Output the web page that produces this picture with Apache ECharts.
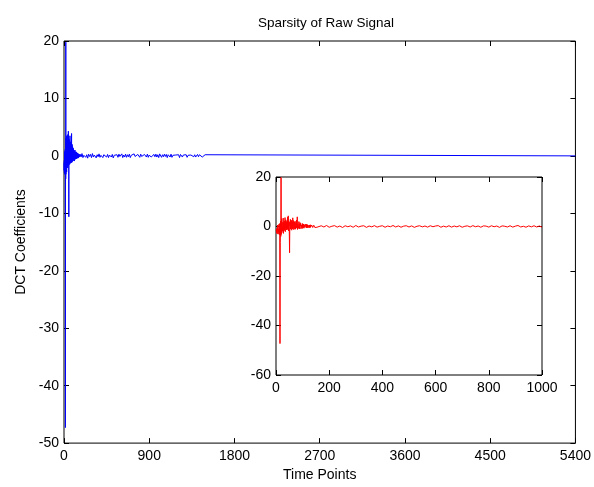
<!DOCTYPE html>
<html>
<head>
<meta charset="utf-8">
<script src="https://cdn.jsdelivr.net/npm/echarts@6/dist/echarts.min.js"></script>
<style>
  html, body { margin: 0; padding: 0; background: #fff; }
  #chart { width: 594px; height: 487px; }
</style>
</head>
<body>
<div id="chart"></div>
<script>
// DCT coefficients, index 1..160 (one per point)
const headVals = [
  -1.2, -2.5, -0.8, -2.9, -1.5, 0.6, -2.2, -3.1, -1.0, -2.4, 0.9, -1.8, -3.3, 1.2,
  -47.3, -6.5, 2.1, -4.0, 19.8, -3.2,
  3.1, -2.5, 1.8, 2.6, -1.9, 0.7, 3.4, -2.8, 1.5, -0.9, 2.2, -1.6, 0.4, 3.6, -2.1, 1.3, 2.7, -0.6, 1.9, -1.4,
  0.8, 2.3, -1.2, 3.8, -0.5, 4.3, -1.8, 1.1, 2.0, -2.6, -10.6, 1.7, 0.3, 2.9, -1.1, 1.4, -0.7, 2.5, -1.5, 0.6,
  1.8, -1.0, 3.5, -0.8, 1.2, 2.4, -1.3, 0.5, 1.9, -0.9, 0.8, 2.1, -1.1, 0.4, 1.5, -0.7, 2.6, -0.5, 1.1, 3.9,
  -1.2, 0.9, 1.7, -0.8, 0.3, 2.0, -0.6, 1.0, -1.0, 1.6, 0.2, -0.5, 1.3, -0.9, 0.7, 1.4, -0.4, 0.5, -0.8, 1.2,
  0.3, -0.6, 1.0, 0.2, -0.7, 0.8, 1.1, -0.3, 0.4, -0.9, 0.9, 0.1, -0.4, 0.7, -0.5, 1.0, 0.2, -0.3, 0.6, -0.6,
  0.5, 0.8, -0.2, 0.3, -0.5, 0.6, 0.1, -0.4, 0.7, -0.3,
  0.4, 0.2, -0.5, 0.6, -0.2, 0.3, 0.5, -0.4, 0.2, 0.4, -0.3, 0.5, 0.1, -0.2, 0.4, -0.4, 0.3, 0.2, -0.3, 0.4,
  0.1, -0.2, 0.3, -0.3, 0.2, 0.4, -0.2, 0.1, 0.3, -0.2
];
// small coefficients, index 170..1500, every 10th point
const noiseStart = 170;
const noiseStep = 10;
const noiseVals = [
  0.3, -0.2, 0.4, -0.3, 0.1, 0.35, -0.25, 0.2, -0.4, 0.3,
  -0.1, 0.25, -0.3, 0.4, -0.2, 0.15, 0.3, -0.35, 0.2, -0.15,
  0.35, -0.25, 0.1, 0.3, -0.3, 0.2, -0.1, 0.4, -0.2, 0.25,
  -0.3, 0.15, 0.3, -0.2, 0.25, -0.35, 0.1, 0.3, -0.15, 0.2,
  -0.25, 0.3, -0.1, 0.2, 0.35, -0.3, 0.15, -0.2, 0.3, -0.25,
  0.2, -0.15, 0.3, -0.3, 0.1, 0.25, -0.2, 0.35, -0.1, 0.2,
  -0.3, 0.25, 0.15, -0.25, 0.3, -0.1, 0.2, -0.35, 0.25, 0.1,
  -0.2, 0.3, -0.25, 0.15, 0.4, -0.2, 0.1, -0.3, 0.25, -0.15,
  0.3, -0.2, 0.2, -0.3, 0.35, 0.1, -0.25, 0.2, -0.15, 0.3,
  -0.1, 0.25, -0.3, 0.2, 0.15, -0.2, 0.3, -0.25, 0.1, 0.2,
  -0.2, 0.15, 0.3, -0.15, 0.2, -0.3, 0.25, 0.1, -0.2, 0.15,
  0.25, -0.15, 0.2, -0.25, 0.1, 0.3, -0.2, 0.15, -0.1, 0.2,
  -0.15, 0.2, -0.2, 0.1, 0.25, -0.15, 0.2, -0.1, 0.15, -0.2,
  0.1, -0.15, 0.2, -0.1
];
// flat tail up to the end of the signal
const tailX = [1510, 5400];
const tailY = [0, 0];

const mainXTicks = { min: 0, max: 5400, interval: 900 };
const mainYTicks = { min: -50, max: 20, interval: 10 };
const insetXTicks = { min: 0, max: 1000, interval: 200 };
const insetYTicks = { min: -60, max: 20, interval: 20 };

const signal = [];
headVals.forEach((v, i) => signal.push([i + 1, v]));
noiseVals.forEach((v, i) => signal.push([noiseStart + i * noiseStep, v]));
tailX.forEach((x, i) => signal.push([x, tailY[i]]));
const insetSignal = signal.filter(p => p[0] <= 1000);

const font = 'Liberation Sans, Arial, sans-serif';
const plain = v => String(v);

function axisX(gridIndex, ticks, pos, labels, name) {
  return {
    type: 'value', gridIndex, position: pos, ...ticks,
    name: name || '', nameLocation: 'middle', nameGap: 20,
    nameTextStyle: { color: '#000', fontSize: 14, fontFamily: font },
    axisLine: { show: false, onZero: false },
    axisTick: { show: true, inside: true, length: 5, lineStyle: { color: '#000' } },
    axisLabel: { show: labels, color: '#000', fontSize: 14, fontFamily: font, margin: 6, formatter: plain },
    splitLine: { show: false }
  };
}
function axisY(gridIndex, ticks, pos, labels, name) {
  return {
    type: 'value', gridIndex, position: pos, ...ticks,
    name: name || '', nameLocation: 'middle', nameGap: 36,
    nameTextStyle: { color: '#000', fontSize: 14, fontFamily: font },
    axisLine: { show: false, onZero: false },
    axisTick: { show: true, inside: true, length: 5, lineStyle: { color: '#000' } },
    axisLabel: { show: labels, color: '#000', fontSize: 14, fontFamily: font, margin: 5, formatter: plain },
    splitLine: { show: false }
  };
}

const chart = echarts.init(document.getElementById('chart'));
chart.setOption({
  animation: false,
  backgroundColor: '#fff',
  title: {
    text: 'Sparsity of Raw Signal', left: 321, top: 11, textAlign: 'center',
    textStyle: { color: '#000', fontSize: 13.5, fontWeight: 'normal', fontFamily: font }
  },
  grid: [
    { left: 64, top: 41, width: 514, height: 403, show: true, backgroundColor: '#fff', borderColor: '#000', borderWidth: 1 },
    { left: 276, top: 177, width: 266, height: 198, show: true, backgroundColor: '#fff', borderColor: '#000', borderWidth: 1 }
  ],
  xAxis: [
    axisX(0, mainXTicks, 'bottom', true, 'Time Points'),
    axisX(0, mainXTicks, 'top', false),
    axisX(1, insetXTicks, 'bottom', true),
    axisX(1, insetXTicks, 'top', false)
  ],
  yAxis: [
    axisY(0, mainYTicks, 'left', true, 'DCT Coefficients'),
    axisY(0, mainYTicks, 'right', false),
    axisY(1, insetYTicks, 'left', true),
    axisY(1, insetYTicks, 'right', false)
  ],
  series: [
    {
      type: 'line', xAxisIndex: 0, yAxisIndex: 0, data: signal,
      showSymbol: false, lineStyle: { color: '#0000ff', width: 1 }
    },
    {
      type: 'line', xAxisIndex: 2, yAxisIndex: 2, data: insetSignal,
      showSymbol: false, lineStyle: { color: '#ff0000', width: 1 }
    }
  ]
});
</script>
</body>
</html>
